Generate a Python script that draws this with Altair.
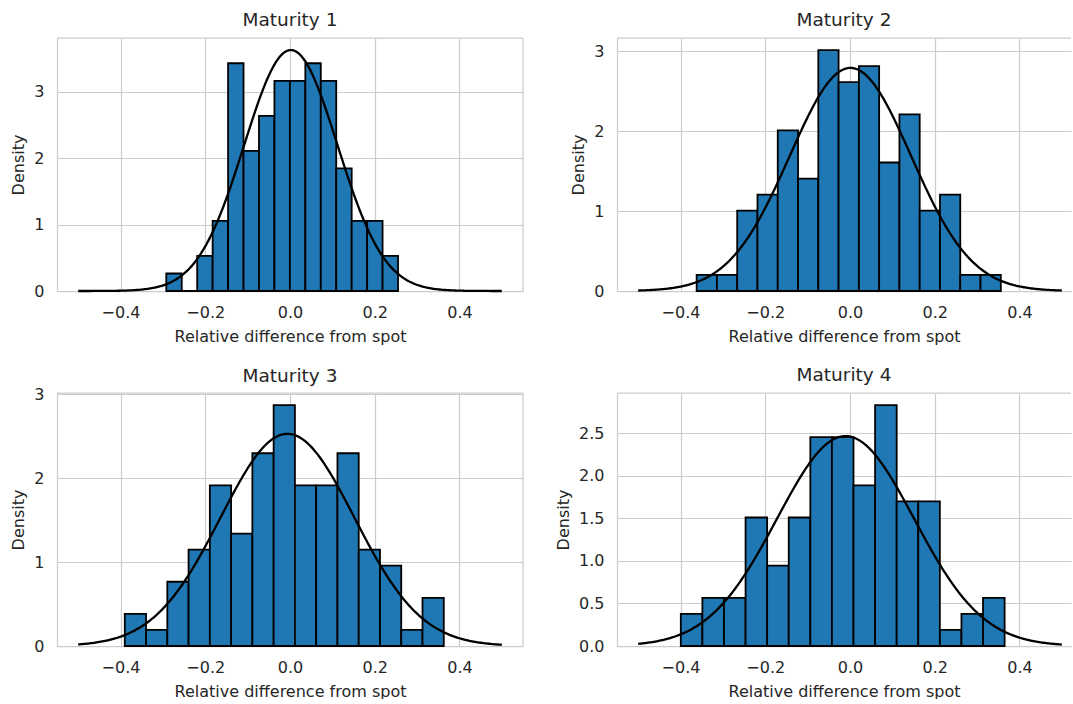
import numpy as np
import pandas as pd
import altair as alt

# Four maturities: histogram of relative differences from spot, with a fitted normal curve
titles = ["Maturity 1", "Maturity 2", "Maturity 3", "Maturity 4"]

# 15 equal-width bins per panel, spanning [bin_lo, bin_hi]
bin_lo = [-0.292, -0.362, -0.390, -0.3994]
bin_hi = [0.255, 0.356, 0.363, 0.365]

counts_1 = [1, 0, 2, 4, 13, 8, 10, 12, 12, 13, 12, 7, 4, 4, 2]
counts_2 = [1, 1, 5, 6, 10, 7, 15, 13, 14, 8, 11, 5, 6, 1, 1]
counts_3 = [2, 1, 4, 6, 10, 7, 12, 15, 10, 10, 12, 6, 5, 1, 3]
counts_4 = [2, 3, 3, 8, 5, 8, 13, 13, 10, 15, 9, 9, 1, 2, 3]
counts = [counts_1, counts_2, counts_3, counts_4]

# Fitted normal parameters
fit_mean = [0.002, 0.001, -0.006, -0.0105]
fit_std = [0.110, 0.143, 0.1577, 0.1618]

x_ticks = [-0.4, -0.2, 0.0, 0.2, 0.4]
y_ticks_int = [0, 1, 2, 3]
y_ticks_half = [0.0, 0.5, 1.0, 1.5, 2.0, 2.5]
y_ticks = [y_ticks_int, y_ticks_int, y_ticks_int, y_ticks_half]
y_formats = ["d", "d", "d", ".1f"]

# Panel 3's top tick label reaches above the plot, so its title needs a larger pull-down
title_offsets = [-7, -7, -14, -7]

FONT = "DejaVu Sans"
TEXT = "#262626"
GRID = "#cccccc"
BLUE = "#1f77b4"

PANEL_W = 466
PANEL_H = 253
PX_PER_UNIT = PANEL_W / 1.1
RIGHT_W = 454


def panel(i, width):
    c = np.array(counts[i], dtype=float)
    n = c.sum()
    edges = np.linspace(bin_lo[i], bin_hi[i], len(c) + 1)
    bw = edges[1] - edges[0]
    hist = pd.DataFrame({"lo": edges[:-1], "hi": edges[1:], "density": c / (n * bw)})

    xs = np.linspace(-0.5, 0.5, 300)
    mu, sd = fit_mean[i], fit_std[i]
    pdf = np.exp(-0.5 * ((xs - mu) / sd) ** 2) / (sd * np.sqrt(2 * np.pi))
    curve = pd.DataFrame({"lo": xs, "density": pdf})

    ymax = 1.05 * max(hist["density"].max(), pdf.max())
    x_max = -0.55 + width / PX_PER_UNIT

    x_enc = alt.X(
        "lo:Q",
        title="Relative difference from spot",
        scale=alt.Scale(domain=[-0.55, x_max], nice=False, zero=False),
        axis=alt.Axis(values=x_ticks, format=".1f"),
    )
    y_enc = alt.Y(
        "density:Q",
        title="Density",
        scale=alt.Scale(domain=[0, ymax], nice=False, zero=False),
        axis=alt.Axis(values=y_ticks[i], format=y_formats[i]),
    )

    bars = alt.Chart(hist).mark_rect(
        fill=BLUE, stroke="black", strokeWidth=1.8
    ).encode(x=x_enc, x2="hi:Q", y=y_enc, y2=alt.datum(0))

    line = alt.Chart(curve).mark_line(color="black", strokeWidth=2.3).encode(
        x=x_enc, y=y_enc
    )

    one = pd.DataFrame({"k": [0]})
    top = alt.Chart(one).mark_rule(color=GRID, strokeWidth=1.25).encode(
        x=alt.value(0), x2=alt.value(width), y=alt.value(0)
    )
    layers = [bars, line, top]
    if width == PANEL_W:
        right = alt.Chart(one).mark_rule(color=GRID, strokeWidth=1.25).encode(
            x=alt.value(width), y=alt.value(0), y2=alt.value(PANEL_H)
        )
        layers.append(right)

    return alt.layer(*layers).properties(
        width=width,
        height=PANEL_H,
        title=alt.TitleParams(
            titles[i], fontSize=18.5, font=FONT, color=TEXT, fontWeight="normal",
            offset=title_offsets[i], baseline="alphabetic",
        ),
    )


chart = alt.concat(
    panel(0, PANEL_W), panel(1, RIGHT_W), panel(2, PANEL_W), panel(3, RIGHT_W),
    columns=2,
    spacing={"row": 102, "column": 94},
    bounds="flush",
).properties(
    padding={"left": 10, "top": 10, "right": 0, "bottom": 0},
    background="white",
).configure_view(stroke=None).configure_axis(
    labelFont=FONT, titleFont=FONT, labelFontSize=16, titleFontSize=16,
    labelColor=TEXT, titleColor=TEXT, titleFontWeight="normal",
    grid=True, gridColor=GRID, gridWidth=1.2,
    domain=True, domainColor=GRID, domainWidth=1.25,
    ticks=False, labelPadding=13,
).configure_axisX(titlePadding=8).configure_axisY(titlePadding=7.5)

chart.save("out.html", embed_options={"renderer": "svg", "actions": False})
